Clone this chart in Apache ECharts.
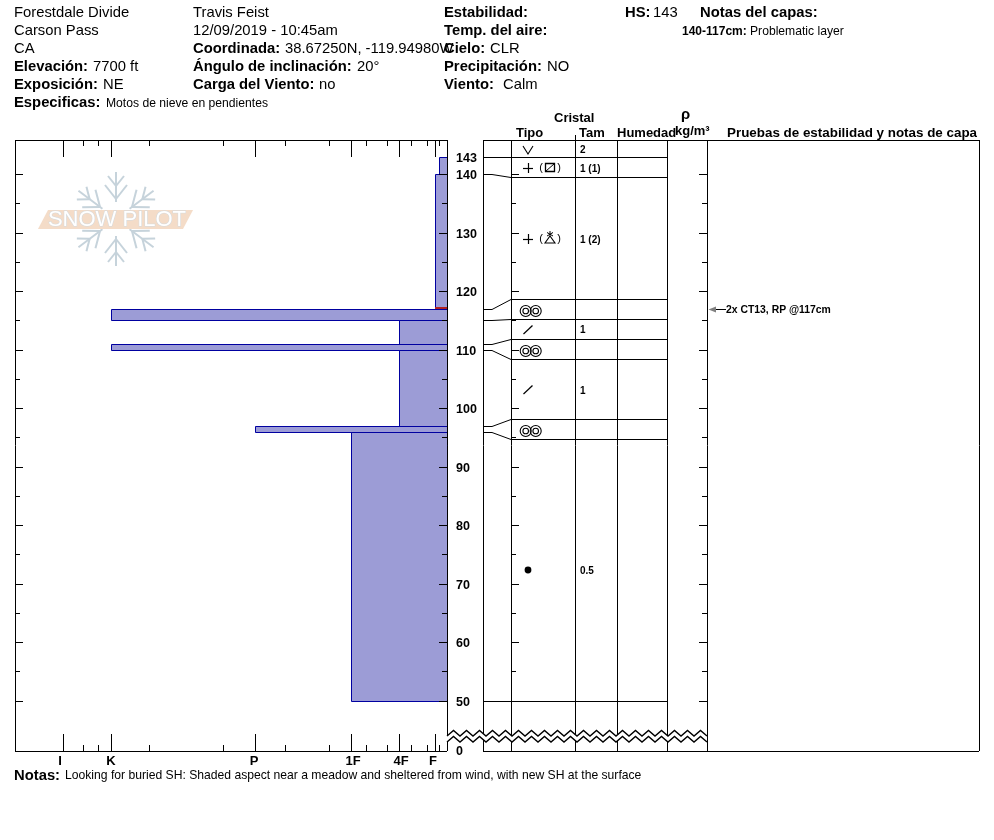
<!DOCTYPE html>
<html><head><meta charset="utf-8">
<style>html,body{margin:0;padding:0;background:#fff}#c{width:994px;height:840px}</style>
<script src="https://cdn.jsdelivr.net/npm/echarts@6/dist/echarts.min.js"></script>
</head><body><div id="c"></div>
<script>
// ---------- data ----------
const layerTops      = [143, 140, 117, 115, 111, 110, 97, 96];
const layerBottoms   = [140, 117, 115, 111, 110, 97, 96, 50];
const layerHardness  = [0.67, 1, 28, 4, 28, 4, 16, 8];
const problemDepth = 117, problemHardness = 1;

const hardnessLabels = ['I', 'K', 'P', '1F', '4F', 'F'];
const hardnessValues = [32, 28, 16, 8, 4, 1];
const hardnessMinor  = [30.33, 29.08, 24.83, 18.67, 13.5, 9.83, 6.75, 5, 3, 1.67, 0.67];

const depthLabels = [143, 140, 130, 120, 110, 100, 90, 80, 70, 60, 50];
const depthTicks  = [140,135,130,125,120,115,110,105,100,95,90,85,80,75,70,65,60,55,50];

const tableEdges = [143, 139.5, 118.7, 115.3, 111.9, 108.4, 98.2, 94.8, 50];
const connectFrom = [140, 117, 115, 111, 110, 97, 96];
const connectTo   = [139.5, 118.7, 115.3, 111.9, 108.4, 98.2, 94.8];
const grainTypes = ['sh', 'fc-df', 'fc-pp', 'mf', 'ds', 'mf', 'ds', 'mf', 'rg'];
const grainSizes = ['2', '1 (1)', '1 (2)', '', '1', '', '1', '', '0.5'];

const testDepths = [117];
const testLabels = ['2x CT13, RP @117cm'];

// ---------- layout ----------
const PX = 5.85, Y50 = 700.7, TOP = 140, BOT = 751, L = 15, R = 447;
const yMin = 50 - (BOT - Y50) / PX, yMax = 50 + (Y50 - TOP) / PX;
const COLS = [483, 511, 575, 617, 667, 707];
const FRAME_R = 979;
const F = '"Liberation Sans", Arial, sans-serif';
const c = v => Math.round(v) + 0.5;
const ln = (x1, y1, x2, y2, w, col) => ({type:'line', shape:{x1, y1, x2, y2},
  style:{stroke: col || '#000', lineWidth: w || 1, fill: null}});
const tx = (x, y, text, font, align) => ({type:'text', style:{x, y, text, font: font + ' ' + F,
  fill:'#000', align: align || 'left', verticalAlign:'middle'}});

// ---------- header texts ----------
const B14 = 'bold 14.8px', N14 = '14.8px', N12 = '12.15px', B12 = 'bold 12px', B13 = 'bold 13px';
const headerTexts = [
 [14,12,'Forestdale Divide',N14],[14,30,'Carson Pass',N14],[14,48,'CA',N14],
 [14,66,'Elevación:',B14],[93,66,'7700 ft',N14],[14,84,'Exposición:',B14],[103,84,'NE',N14],
 [14,102,'Especificas:',B14],[106,103,'Motos de nieve en pendientes',N12],
 [193,12,'Travis Feist',N14],[193,30,'12/09/2019 - 10:45am',N14],
 [193,48,'Coordinada:',B14],[285,48,'38.67250N, -119.94980W',N14],
 [193,66,'Ángulo de inclinación:',B14],[357,66,'20°',N14],
 [193,84,'Carga del Viento:',B14],[319,84,'no',N14],
 [444,12,'Estabilidad:',B14],[444,30,'Temp. del aire:',B14],[444,48,'Cielo:',B14],[490,48,'CLR',N14],
 [444,66,'Precipitación:',B14],[547,66,'NO',N14],[444,84,'Viento:',B14],[503,84,'Calm',N14],
 [625,12,'HS:',B14],[653,12,'143',N14],[700,12,'Notas del capas:',B14],
 [682,31,'140-117cm:',B12],[750,31,'Problematic layer',N12],
 [14,775,'Notas:',B14],[65,775,'Looking for buried SH: Shaded aspect near a meadow and sheltered from wind, with new SH at the surface',N12],
 [554,117,'Cristal',B13],[516,132,'Tipo',B13],[579,132,'Tam',B13],
 [617,132,'Humedad',B13],[681,114,'ρ',B14],[675,130,'kg/m³',B13],
 [727,132,'Pruebas de estabilidad y notas de capa','bold 13.4px']
];

// ---------- logo ----------
function logo() {
  const kids = [], cx = 116, cy = 219, col = '#c6d3db';
  const ang = [90, 37, -37, -90, -143, 143];
  ang.forEach(a => {
    const t = a * Math.PI / 180, u = [Math.cos(t), -Math.sin(t)], v = [-u[1], u[0]];
    const P = (r, s) => [cx + u[0]*r + v[0]*s, cy + u[1]*r + v[1]*s];
    const seg = (p, q, w) => kids.push({type:'polyline', shape:{points:[p, q]},
      style:{stroke: col, lineWidth: w, fill: null}, z: 1});
    seg(P(17,0), P(47,0), 2);
    [[20,11,34],[33,8,43]].forEach(([r0, s, r1]) => { seg(P(r0,0), P(r1,s), 2); seg(P(r0,0), P(r1,-s), 2); });
  });
  kids.push({type:'polygon', shape:{points:[[48,210],[193,210],[183,229],[38,229]]},
    style:{fill:'#f4dcc8'}, z: 2});
  kids.push({type:'text', style:{x:117, y:220, text:'SNOW PILOT', font:'22px ' + F, fill:'#fff',
    stroke:'#d3dbe0', lineWidth:1, align:'center', verticalAlign:'middle'}, z: 3});
  return {type:'group', children: kids, silent: true};
}

// ---------- marks ----------
function drawGrain(type, y) {
  const x = 528, k = [], S = {stroke:'#000', lineWidth:1.1, fill:null};
  const plus = () => { k.push(ln(x-5,y+0.5,x+5,y+0.5,1.2)); k.push(ln(x+0.5,y-5,x+0.5,y+5,1.2)); };
  const parens = () => { k.push(tx(541,y,'(', '11px','center')); k.push(tx(559,y,')', '11px','center')); };
  if (type === 'sh') k.push({type:'polyline', shape:{points:[[x-5,y-3],[x,y+5],[x+5,y-3]]}, style:S});
  if (type === 'ds') k.push(ln(x-4.5,y+4,x+4.5,y-4.5,1.2));
  if (type === 'rg') k.push({type:'circle', shape:{cx:x,cy:y-1,r:3.4}, style:{fill:'#000'}});
  if (type === 'mf') [525.7, 535.7].forEach(cx => {
    k.push({type:'circle', shape:{cx,cy:y+1,r:5.5}, style:S});
    k.push({type:'circle', shape:{cx,cy:y+1,r:2.8}, style:S});
  });
  if (type === 'fc-df') {
    plus(); parens();
    k.push({type:'rect', shape:{x:545.5,y:y-4.5,width:9,height:8}, style:{stroke:'#000',lineWidth:1.3,fill:null}});
    k.push(ln(546,y+3,554,y-4));
  }
  if (type === 'fc-pp') {
    plus(); parens();
    k.push({type:'polyline', shape:{points:[[550,y-3],[545,y+4],[555,y+4],[550,y-3]]}, style:S});
    k.push(ln(550,y-8,550,y-2)); k.push(ln(547,y-6.5,553,y-3)); k.push(ln(553,y-6.5,547,y-3));
  }
  return {type:'group', children:k};
}

function renderTable(p, api) {
  const Y = v => api.coord([0, v])[1], k = [];
  COLS.forEach(x => k.push(ln(x+0.5, TOP, x+0.5, BOT)));
  k.push(ln(575.5, 135, 575.5, TOP));
  k.push(ln(COLS[0], TOP+0.5, FRAME_R, TOP+0.5), ln(COLS[0], BOT+0.5, FRAME_R, BOT+0.5), ln(FRAME_R+0.5, TOP, FRAME_R+0.5, BOT));
  tableEdges.forEach((v, i) => {
    const first = i === 0 || i === tableEdges.length - 1;
    k.push(ln(first ? COLS[0] : COLS[1], c(Y(v)), COLS[4], c(Y(v))));
  });
  connectFrom.forEach((v, i) => k.push({type:'polyline',
    shape:{points:[[COLS[0], c(Y(v))], [492, c(Y(v))], [COLS[1], c(Y(connectTo[i]))]]},
    style:{stroke:'#000', lineWidth:1, fill:null}}));
  grainTypes.forEach((g, i) => {
    const top = i === 0 ? yMax : tableEdges[i-1], bot = tableEdges[i];
    const ym = (Y(top) + Y(bot)) / 2 + 1;
    k.push(drawGrain(g, Math.round(ym)));
    if (grainSizes[i]) k.push(tx(580, ym + 1, grainSizes[i], 'bold 10px'));
  });
  testDepths.forEach((d, i) => {
    const y = c(Y(d));
    k.push(ln(715, y, 726, y));
    k.push({type:'polygon', shape:{points:[[708.5,y],[716,y-3],[716,y+3]]}, style:{fill:'#808080'}});
    k.push(tx(726, y+1, testLabels[i], 'bold 10.4px'));
  });
  return {type:'group', children:k};
}

function renderTicks(p, api) {
  const k = [], X = v => api.coord([v, 50])[0], Y = v => api.coord([0, v])[1];
  depthTicks.forEach(v => {
    const y = c(Y(v)), len = v % 10 === 0 ? 8 : 5;
    k.push(ln(L, y, L+len, y), ln(R, y, R-len, y),
           ln(COLS[1], y, COLS[1]+len, y), ln(COLS[5], y, COLS[5]-len, y));
  });
  hardnessValues.forEach(v => { const x = c(X(v));
    k.push(ln(x, TOP, x, TOP+17), ln(x, BOT-17, x, BOT)); });
  hardnessMinor.forEach(v => { const x = c(X(v));
    k.push(ln(x, TOP, x, TOP+6), ln(x, BOT-6, x, BOT)); });
  const nudge = [-3, 0, -1, 2, 2, -2];
  hardnessValues.forEach((v, i) => k.push(tx(X(v)+nudge[i], 761, hardnessLabels[i], 'bold 13px', 'center')));
  depthLabels.forEach(v => k.push(tx(456, Y(v) + 1.5, String(v), 'bold 12.5px')));
  k.push(tx(456, Y(yMin) + 1, '0', 'bold 12.5px'));
  k.push(ln(L, TOP+0.5, R, TOP+0.5), ln(L, BOT+0.5, R, BOT+0.5), ln(L+0.5, TOP, L+0.5, BOT), ln(R+0.5, TOP, R+0.5, BOT));
  return {type:'group', children:k};
}

function renderZig() {
  const a = [], b = [], P = 13;
  for (let x = R, n = 0; x <= COLS[5] + 0.01; x += P/2, n++) {
    const up = n % 2 === 0;
    a.push([x, up ? 736 : 730.5]);
    b.push([x, up ? 742 : 736.5]);
  }
  return {type:'group', children:[
    {type:'polygon', shape:{points:a.concat(b.slice().reverse())}, style:{fill:'#fff'}},
    {type:'polyline', shape:{points:a}, style:{stroke:'#000', lineWidth:1.4, fill:null}},
    {type:'polyline', shape:{points:b}, style:{stroke:'#000', lineWidth:1.4, fill:null}}
  ]};
}

const chart = echarts.init(document.getElementById('c'), null, {renderer:'canvas'});
chart.setOption({
  animation:false, backgroundColor:'#fff', textStyle:{fontFamily:F},
  grid:{left:L, width:R-L, top:TOP, height:BOT-TOP},
  xAxis:{type:'value', min:0, max:36, inverse:true, axisLine:{show:false}, axisTick:{show:false},
         axisLabel:{show:false}, splitLine:{show:false}},
  yAxis:{type:'value', min:yMin, max:yMax, position:'right', axisLine:{show:false}, axisTick:{show:false},
         splitLine:{show:false}, axisLabel:{show:false}},
  graphic:{elements:[logo()].concat(headerTexts.map(t => ({type:'text', x:t[0], y:t[1]+1, silent:true,
    style:{text:t[2], font:t[3] + ' ' + F, fill:'#000', verticalAlign:'middle'}})))},
  series:[
    {type:'custom', silent:true, clip:false, z:3, data:layerTops.map((t,i)=>[t, layerBottoms[i], layerHardness[i]]),
     renderItem:(p, api) => {
       const a = api.coord([api.value(2), api.value(0)]), b = api.coord([0, api.value(1)]);
       return {type:'rect', shape:{x:c(a[0]), y:c(a[1]), width:c(b[0])-c(a[0]), height:c(b[1])-c(a[1])},
         style:{fill:'#9c9cd6', stroke:'#0000a0', lineWidth:1}};
     }},
    {type:'custom', silent:true, clip:false, z:4, data:[[problemDepth, problemHardness]],
     renderItem:(p, api) => {
       const a = api.coord([api.value(1), api.value(0)]), b = api.coord([0, api.value(0)]);
       return {type:'rect', shape:{x:a[0], y:Math.round(a[1])-2, width:b[0]-a[0], height:2}, style:{fill:'#b02020'}};
     }},
    {type:'custom', silent:true, clip:false, z:5, data:[[0,50]], renderItem:renderTicks},
    {type:'custom', silent:true, clip:false, z:5, data:[[0,50]], renderItem:renderTable},
    {type:'custom', silent:true, clip:false, z:6, data:[[0,50]], renderItem:renderZig}
  ]
});
</script></body></html>
